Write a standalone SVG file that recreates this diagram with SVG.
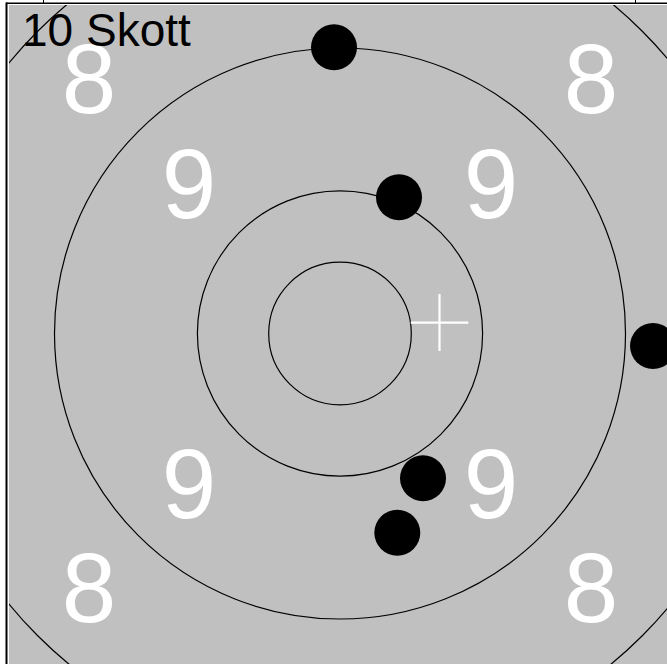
<svg xmlns="http://www.w3.org/2000/svg" width="667" height="664" viewBox="0 0 667 664">
<style>
.ring{fill:none;stroke:#000;stroke-width:1.2}
.shot{fill:#000}
.num{font-family:"Liberation Sans",Arial,sans-serif;font-size:98px;fill:#fff;text-anchor:middle}
.title{font-family:"Liberation Sans",Arial,sans-serif;font-size:46px;fill:#000}
.axis{stroke:#000;fill:none}
</style>
<defs>
<clipPath id="plot"><rect x="9" y="5" width="658" height="659"/></clipPath>
</defs>
<rect x="0" y="0" width="667" height="664" fill="#fff"/>
<g id="target" clip-path="url(#plot)">
<rect x="9" y="5" width="658" height="659" fill="#c0c0c0"/>
<g id="labels">
<text class="num" x="89" y="113">8</text>
<text class="num" x="591" y="113">8</text>
<text class="num" x="89" y="622">8</text>
<text class="num" x="591" y="622">8</text>
<text class="num" x="189" y="218">9</text>
<text class="num" x="491" y="218">9</text>
<text class="num" x="189" y="518">9</text>
<text class="num" x="491" y="518">9</text>
</g>
<text class="title" x="22" y="46">10 Skott</text>
<g id="rings">
<circle class="ring" cx="340" cy="333.5" r="71.3"/>
<circle class="ring" cx="340" cy="333.5" r="142.6"/>
<circle class="ring" cx="340" cy="333.5" r="285.5"/>
<circle class="ring" cx="340" cy="333.5" r="427.5"/>
</g>
<g id="shots">
<circle class="shot" cx="334" cy="47.3" r="23"/>
<circle class="shot" cx="399" cy="197.3" r="23"/>
<circle class="shot" cx="653" cy="346" r="23"/>
<circle class="shot" cx="423" cy="478.3" r="23"/>
<circle class="shot" cx="397.3" cy="532.7" r="23"/>
</g>
<g id="cross" stroke="#fff" stroke-width="2.2">
<line x1="410.7" y1="322.7" x2="468.3" y2="322.7"/>
<line x1="439.5" y1="294" x2="439.5" y2="351"/>
</g>
</g>
<g id="frame">
<line class="axis" x1="6" y1="3.2" x2="667" y2="3.2" stroke-width="1.5"/>
<line class="axis" x1="6.5" y1="2.5" x2="6.5" y2="664" stroke-width="2"/>
<line class="axis" x1="43.5" y1="0" x2="43.5" y2="3" stroke-width="1"/>
<line class="axis" x1="635.5" y1="0" x2="635.5" y2="3" stroke-width="1"/>
</g>
</svg>
